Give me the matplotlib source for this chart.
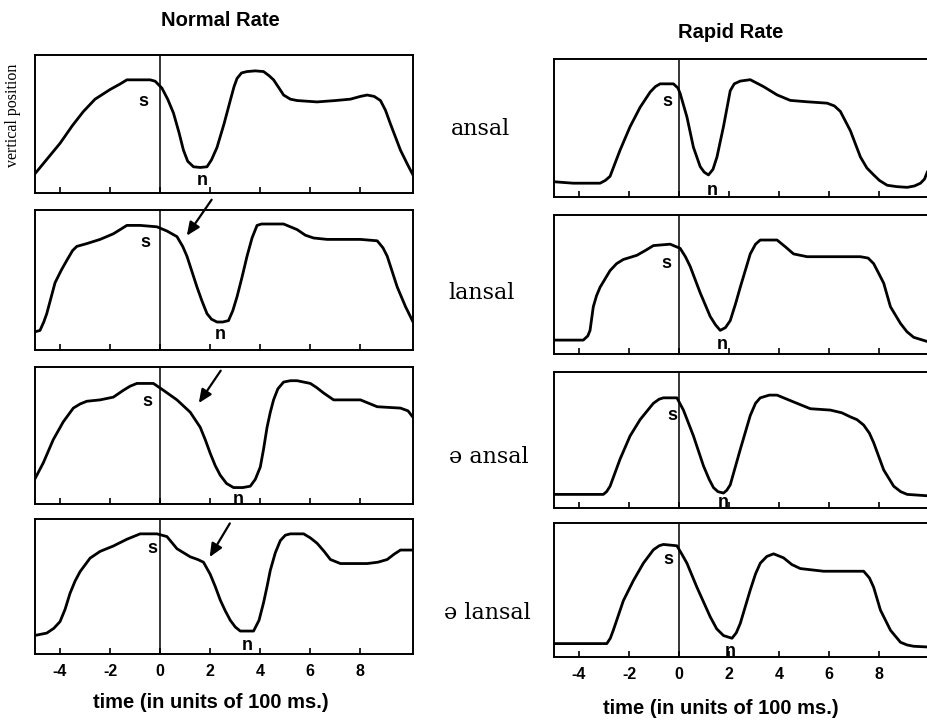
import matplotlib.pyplot as plt

plt.rcParams['axes.unicode_minus'] = False

# time axis in units of 100 ms, vertical position normalised 0..1 within each panel
normal_ansal_x = [-5.0, -4.5, -4.0, -3.5, -3.07, -2.6, -2.0, -1.6, -1.33, -0.8, -0.4, -0.2, 0.07, 0.3, 0.53, 0.75,
                  0.93, 1.1, 1.33, 1.6, 1.87, 2.05, 2.27, 2.55, 2.8, 2.95, 3.07, 3.25, 3.47, 3.8, 4.13, 4.35,
                  4.53, 4.75, 4.93, 5.2, 5.47, 6.27, 7.0, 7.6, 8.0, 8.27, 8.55, 8.8, 9.0, 9.2, 9.6, 9.9, 10.13]
normal_ansal_y = [0.14, 0.25, 0.36, 0.49, 0.59, 0.68, 0.75, 0.79, 0.82, 0.82, 0.82, 0.81, 0.76, 0.68, 0.58, 0.44,
                  0.31, 0.23, 0.19, 0.185, 0.19, 0.24, 0.33, 0.50, 0.67, 0.77, 0.83, 0.87, 0.88, 0.885, 0.88, 0.85,
                  0.82, 0.76, 0.71, 0.68, 0.67, 0.66, 0.67, 0.68, 0.70, 0.71, 0.70, 0.67, 0.60, 0.50, 0.31, 0.20, 0.12]

normal_lansal_x = [-5.0, -4.8, -4.65, -4.53, -4.35, -4.2, -3.95, -3.73, -3.5, -3.33, -2.93, -2.4, -1.87, -1.6,
                   -1.33, -0.8, -0.13, 0.27, 0.67, 0.9, 1.07, 1.27, 1.47, 1.67, 1.87, 2.05, 2.27, 2.5, 2.73, 2.9,
                   3.07, 3.27, 3.47, 3.67, 3.87, 4.05, 4.27, 4.93, 5.2, 5.47, 5.8, 6.13, 6.67, 8.0, 8.67, 8.9,
                   9.07, 9.27, 9.47, 9.8, 10.13]
normal_lansal_y = [0.13, 0.14, 0.20, 0.26, 0.38, 0.48, 0.57, 0.64, 0.71, 0.74, 0.76, 0.79, 0.83, 0.86,
                   0.89, 0.89, 0.88, 0.85, 0.81, 0.74, 0.67, 0.56, 0.45, 0.35, 0.26, 0.22, 0.20, 0.20, 0.21, 0.28,
                   0.38, 0.52, 0.67, 0.80, 0.89, 0.90, 0.90, 0.90, 0.88, 0.86, 0.82, 0.80, 0.79, 0.79, 0.78, 0.73,
                   0.67, 0.56, 0.45, 0.31, 0.19]

normal_schwa_ansal_x = [-5.07, -4.67, -4.27, -3.87, -3.47, -3.2, -2.93, -2.4, -1.87, -1.47, -1.2, -0.93, -0.27,
                        0.13, 0.67, 1.2, 1.6, 1.8, 2.0, 2.2, 2.4, 2.65, 2.93, 3.3, 3.6, 3.8, 4.0, 4.13, 4.27,
                        4.4, 4.53, 4.7, 4.93, 5.2, 5.47, 6.0, 6.25, 6.53, 6.93, 8.0, 8.67, 9.6, 9.9, 10.07]
normal_schwa_ansal_y = [0.16, 0.30, 0.47, 0.60, 0.70, 0.73, 0.75, 0.76, 0.78, 0.83, 0.86, 0.88, 0.88,
                        0.83, 0.76, 0.67, 0.56, 0.47, 0.37, 0.28, 0.21, 0.15, 0.12, 0.12, 0.13, 0.18, 0.27, 0.40,
                        0.56, 0.67, 0.76, 0.84, 0.89, 0.90, 0.90, 0.88, 0.85, 0.81, 0.76, 0.76, 0.71, 0.70, 0.68,
                        0.64]

normal_schwa_lansal_x = [-5.07, -4.53, -4.25, -4.0, -3.8, -3.6, -3.4, -3.2, -2.8, -2.4, -1.87, -1.33, -0.8,
                         -0.13, 0.27, 0.67, 1.2, 1.5, 1.73, 2.0, 2.2, 2.4, 2.6, 2.8, 3.0, 3.2, 3.73, 3.95, 4.13,
                         4.27, 4.4, 4.6, 4.8, 5.0, 5.2, 5.73, 6.0, 6.27, 6.55, 6.8, 7.2, 8.27, 8.7, 9.07, 9.35,
                         9.6, 10.07]
normal_schwa_lansal_y = [0.135, 0.155, 0.19, 0.24, 0.33, 0.45, 0.54, 0.61, 0.71, 0.76, 0.80, 0.85, 0.89,
                         0.89, 0.87, 0.78, 0.72, 0.70, 0.68, 0.59, 0.50, 0.40, 0.32, 0.25, 0.20, 0.17, 0.17, 0.25,
                         0.38, 0.50, 0.62, 0.75, 0.84, 0.88, 0.89, 0.89, 0.86, 0.82, 0.76, 0.70, 0.67, 0.67, 0.68,
                         0.70, 0.74, 0.77, 0.77]

rapid_ansal_x = [-4.96, -4.23, -3.16, -2.95, -2.76, -2.55, -2.36, -1.96, -1.56, -1.16, -0.95, -0.76, -0.23,
                 -0.05, 0.04, 0.31, 0.57, 0.84, 1.0, 1.17, 1.35, 1.51, 1.77, 2.04, 2.2, 2.44, 2.84, 3.37, 3.91,
                 4.44, 5.11, 5.91, 6.2, 6.44, 6.84, 7.24, 7.5, 7.77, 8.0, 8.31, 8.7, 9.11, 9.4, 9.64, 9.8, 9.91]
rapid_ansal_y = [0.11, 0.10, 0.10, 0.12, 0.15, 0.25, 0.34, 0.51, 0.65, 0.76, 0.80, 0.82, 0.82,
                 0.79, 0.75, 0.58, 0.36, 0.22, 0.18, 0.16, 0.20, 0.29, 0.51, 0.77, 0.82, 0.84, 0.85, 0.80, 0.74,
                 0.70, 0.69, 0.68, 0.66, 0.62, 0.48, 0.29, 0.21, 0.16, 0.12, 0.085, 0.075, 0.07, 0.08, 0.10,
                 0.13, 0.18]

rapid_lansal_x = [-4.96, -3.83, -3.65, -3.56, -3.43, -3.3, -3.16, -2.76, -2.5, -2.23, -1.69, -1.3, -1.03, -0.36,
                  0.04, 0.25, 0.44, 0.84, 1.24, 1.45, 1.64, 1.85, 2.04, 2.25, 2.44, 2.84, 3.05, 3.24, 3.91, 4.25,
                  4.57, 5.11, 6.44, 7.24, 7.55, 7.77, 8.0, 8.17, 8.44, 8.84, 9.1, 9.37, 9.91]
rapid_lansal_y = [0.10, 0.10, 0.13, 0.17, 0.34, 0.42, 0.48, 0.60, 0.65, 0.68, 0.71, 0.75, 0.78, 0.79,
                  0.76, 0.70, 0.63, 0.44, 0.27, 0.21, 0.17, 0.19, 0.24, 0.36, 0.48, 0.72, 0.79, 0.82, 0.82, 0.77,
                  0.72, 0.70, 0.70, 0.70, 0.69, 0.65, 0.57, 0.51, 0.34, 0.22, 0.16, 0.12, 0.09]

rapid_schwa_ansal_x = [-4.96, -3.03, -2.9, -2.76, -2.36, -1.96, -1.56, -1.03, -0.8, -0.63, -0.09, 0.17, 0.57,
                       0.97, 1.2, 1.37, 1.55, 1.77, 1.9, 2.04, 2.44, 2.84, 3.05, 3.24, 3.6, 3.91, 4.57, 5.24,
                       6.04, 6.5, 6.84, 7.1, 7.37, 7.6, 7.77, 8.17, 8.57, 8.85, 9.11, 9.91]
rapid_schwa_ansal_y = [0.10, 0.10, 0.12, 0.16, 0.36, 0.53, 0.65, 0.77, 0.80, 0.81, 0.81, 0.72, 0.53,
                       0.31, 0.21, 0.15, 0.12, 0.11, 0.13, 0.17, 0.43, 0.68, 0.77, 0.81, 0.83, 0.83, 0.78, 0.73,
                       0.72, 0.70, 0.67, 0.65, 0.61, 0.55, 0.48, 0.28, 0.16, 0.12, 0.10, 0.09]

rapid_schwa_lansal_x = [-4.96, -2.89, -2.75, -2.63, -2.23, -1.83, -1.43, -1.03, -0.8, -0.63, -0.09, 0.1, 0.31,
                        0.71, 1.24, 1.5, 1.77, 2.11, 2.28, 2.44, 2.84, 3.05, 3.24, 3.5, 3.77, 4.17, 4.5, 4.84,
                        5.77, 7.37, 7.6, 7.77, 8.04, 8.44, 8.84, 9.1, 9.37, 9.91]
rapid_schwa_lansal_y = [0.10, 0.10, 0.14, 0.20, 0.42, 0.57, 0.70, 0.80, 0.83, 0.84, 0.83, 0.77, 0.70,
                        0.52, 0.30, 0.21, 0.16, 0.14, 0.18, 0.25, 0.50, 0.62, 0.70, 0.75, 0.77, 0.74, 0.69, 0.66,
                        0.64, 0.64, 0.59, 0.52, 0.35, 0.20, 0.11, 0.09, 0.08, 0.075]

words = ['ansal', 'lansal', 'ə ansal', 'ə lansal']
tick_values = [-4, -2, 0, 2, 4, 6, 8]

# (x, y) of the "s" and "n" markers per panel
normal_s = [(-0.67, 0.66), (-0.6, 0.77), (-0.53, 0.75), (-0.33, 0.78)]
normal_n = [(1.67, 0.09), (2.4, 0.11), (3.13, 0.03), (3.47, 0.06)]
rapid_s = [(-0.49, 0.69), (-0.52, 0.65), (-0.29, 0.68), (-0.43, 0.73)]
rapid_n = [(1.31, 0.05), (1.71, 0.065), (1.77, 0.04), (2.04, 0.04)]

# arrows (tail -> head) in panels 2-4 of the normal column
arrow_tails = [None, (2.12, 1.09), (2.48, 0.99), (2.84, 0.985)]
arrow_heads = [None, (1.0, 0.80), (1.48, 0.72), (1.92, 0.70)]

normal_x = [normal_ansal_x, normal_lansal_x, normal_schwa_ansal_x, normal_schwa_lansal_x]
normal_y = [normal_ansal_y, normal_lansal_y, normal_schwa_ansal_y, normal_schwa_lansal_y]
rapid_x = [rapid_ansal_x, rapid_lansal_x, rapid_schwa_ansal_x, rapid_schwa_lansal_x]
rapid_y = [rapid_ansal_y, rapid_lansal_y, rapid_schwa_ansal_y, rapid_schwa_lansal_y]

W, H = 927, 724
fig = plt.figure(figsize=(W / 100, H / 100), dpi=100)

sans = 'Liberation Sans'
serif = 'DejaVu Serif'

left_rows = [(55, 193), (210, 350), (367, 504), (519, 654)]
right_rows = [(59, 197), (215, 354), (372, 508), (523, 657)]
panel_w = 378


def make_axes(x0, top, bottom):
    ax = fig.add_axes([x0 / W, 1 - bottom / H, panel_w / W, (bottom - top) / H])
    ax.set_xlim(-5, 10.1)
    ax.set_ylim(0, 1)
    ax.set_yticks([])
    ax.set_xticks(tick_values)
    ax.tick_params(axis='x', direction='in', length=4, width=1.2, labelbottom=False)
    for sp in ax.spines.values():
        sp.set_linewidth(1.4)
    ax.axvline(0, color='black', lw=1.1)
    return ax


def bottom_ticks(ax):
    ax.tick_params(labelbottom=True, labelsize=11.5, pad=7)
    for lab in ax.get_xticklabels():
        lab.set_fontweight('bold')
        lab.set_family(sans)


for i in range(4):
    # normal rate column
    ax = make_axes(35, *left_rows[i])
    ax.plot(normal_x[i], normal_y[i], color='black', lw=2.0, solid_joinstyle='round')
    ax.text(*normal_s[i], 's', fontsize=13, fontweight='bold', family=sans, ha='center', va='center')
    ax.text(*normal_n[i], 'n', fontsize=13, fontweight='bold', family=sans, ha='center', va='center')
    if arrow_tails[i] is not None:
        ax.annotate('', xy=arrow_heads[i], xytext=arrow_tails[i], annotation_clip=False,
                    arrowprops=dict(arrowstyle='-|>,head_length=0.8,head_width=0.35', color='black', lw=1.6))
    if i == 3:
        bottom_ticks(ax)

    # rapid rate column
    ax = make_axes(554, *right_rows[i])
    ax.plot(rapid_x[i], rapid_y[i], color='black', lw=2.0, solid_joinstyle='round')
    ax.text(*rapid_s[i], 's', fontsize=13, fontweight='bold', family=sans, ha='center', va='center')
    ax.text(*rapid_n[i], 'n', fontsize=13, fontweight='bold', family=sans, ha='center', va='center')
    if i == 3:
        bottom_ticks(ax)

# x axis titles under each column
fig.text(211 / W, 1 - 702 / H, 'time (in units of 100 ms.)', fontsize=14.5, fontweight='bold', family=sans,
         ha='center', va='center')
fig.text(721 / W, 1 - 709 / H, 'time (in units of 100 ms.)', fontsize=14.5, fontweight='bold', family=sans,
         ha='center', va='center')

# word labels between the columns
word_y = [129, 293, 457, 613]
word_x = [481, 482, 489, 487]
for w, wx, wy in zip(words, word_x, word_y):
    fig.text(wx / W, 1 - wy / H, w, fontsize=16, family=serif, ha='center', va='center')

fig.text(220 / W, 1 - 20 / H, 'Normal Rate', fontsize=14.5, fontweight='bold', family=sans, ha='center', va='center')
fig.text(731 / W, 1 - 32 / H, 'Rapid Rate', fontsize=14.5, fontweight='bold', family=sans, ha='center', va='center')
fig.text(13 / W, 1 - 115 / H, 'vertical position', fontsize=11.5, family='Liberation Serif', rotation=90,
         ha='center', va='center')

fig.savefig('out.png', dpi=100)
